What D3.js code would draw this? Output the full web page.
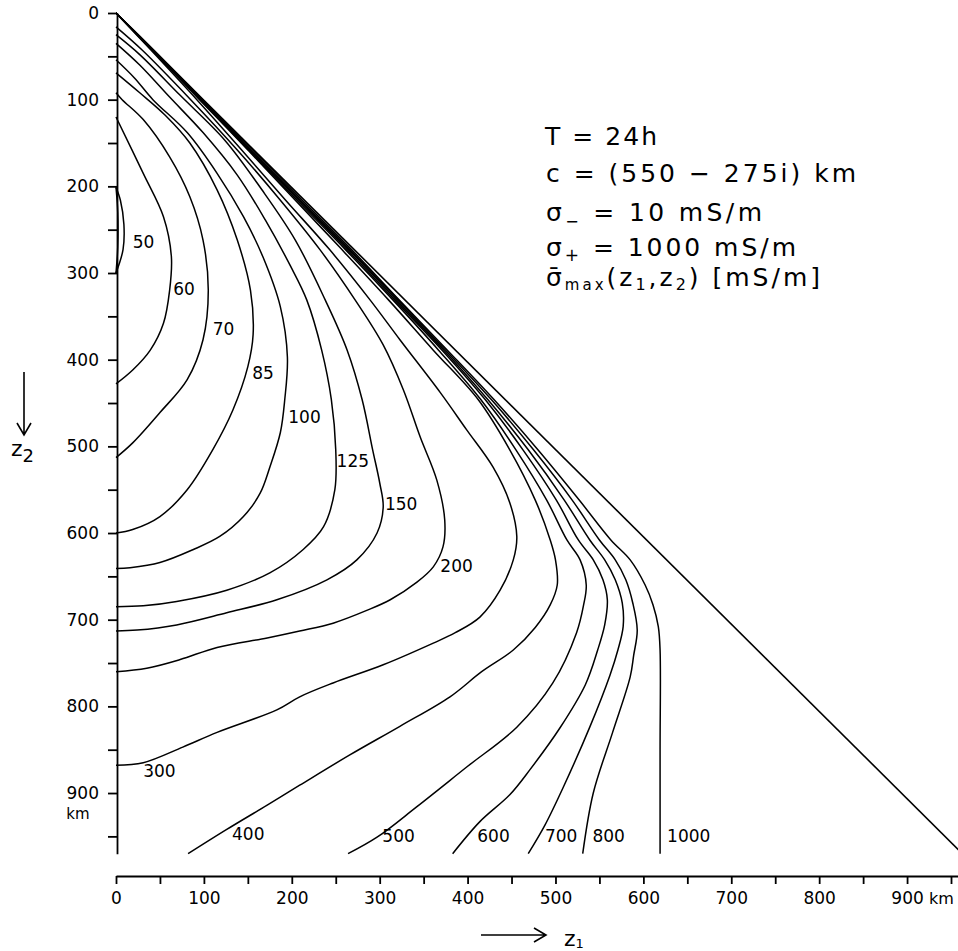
<!DOCTYPE html>
<html><head><meta charset="utf-8">
<script src="https://cdn.jsdelivr.net/npm/d3@7"></script>
<style>
body{margin:0;background:#fff}
svg{display:block;font-family:"DejaVu Sans",sans-serif}
</style>
</head><body>
<script>
// ---- data (z1, z2 in km) ----
const levels = [50,60,70,85,100,125,150,200,300,400,500,600,700,800,1000];

const c50a = [[0,201],[5,216],[9,244],[8,273],[0,300]];
const c50b = [[0,201],[2,230],[2,270],[0,300]];
const c60  = [[0,120],[31,185],[54,235],[63,281],[61,320],[54,358],[39,389],[19,412],[0,428]];
const c70  = [[0,92],[7,100],[31,123],[61,166],[84,212],[99,262],[105,320],[99,377],[81,423],[50,461],[19,496],[0,513]];
const c85  = [[0,69],[27,92],[56,118],[84,150],[115,204],[138,262],[153,320],[156,371],[150,408],[133,458],[110,504],[81,550],[50,581],[19,596],[0,600]];
const c100 = [[0,54],[21,75],[42,100],[81,138],[115,185],[145,235],[167,281],[187,339],[195,397],[192,446],[187,484],[175,524],[164,554],[145,581],[118,604],[88,619],[50,634],[16,640],[0,641]];
const c125 = [[0,35],[27,60],[61,97],[99,138],[138,187],[170,239],[198,291],[217,331],[234,389],[245,446],[250,504],[249,550],[236,593],[213,619],[175,646],[126,666],[69,679],[31,684],[0,685]];
const c150 = [[0,25],[27,48],[73,95],[124,147],[166,204],[204,262],[238,331],[263,389],[280,446],[292,504],[300,542],[304,570],[297,600],[274,631],[240,654],[183,677],[126,692],[69,706],[24,712],[0,713]];
const c200 = [[0,16],[30,43],[85,100],[138,158],[187,216],[232,273],[272,331],[304,383],[327,435],[346,489],[365,539],[374,585],[372,616],[361,639],[342,657],[312,677],[286,689],[247,704],[209,713],[172,721],[115,732],[73,746],[35,756],[0,760]];
const c300 = [[0,0],[40,43],[92,100],[143,158],[193,216],[243,273],[289,331],[323,377],[369,438],[399,481],[429,524],[448,565],[456,604],[452,631],[437,666],[414,697],[386,715],[361,727],[304,752],[247,773],[209,789],[183,804],[115,830],[76,847],[31,865],[0,868]];
const c400 = [[0,0],[41,43],[95,100],[150,158],[204,216],[257,273],[310,331],[361,389],[412,446],[448,504],[477,562],[494,608],[500,631],[502,660],[494,683],[477,709],[452,735],[416,760],[380,789],[323,823],[266,856],[209,891],[172,914],[126,942],[82,970]];
const c500 = [[0,0],[42,43],[96,100],[151,158],[206,216],[261,273],[315,331],[367,389],[415,446],[455,504],[490,562],[513,608],[528,631],[535,660],[532,683],[524,715],[497,773],[456,824],[399,870],[342,916],[297,951],[264,970]];
const c600 = [[0,0],[42,43],[97,100],[152,158],[208,216],[263,273],[317,331],[371,389],[420,446],[463,504],[501,562],[526,608],[543,631],[554,654],[559,677],[556,706],[548,735],[534,775],[505,825],[471,873],[448,902],[414,933],[383,970]];
const c700 = [[0,0],[42,43],[98,100],[153,158],[209,216],[265,273],[319,331],[373,389],[423,446],[469,504],[510,562],[539,608],[556,631],[568,654],[576,681],[577,708],[571,735],[562,764],[539,824],[509,893],[488,937],[469,970]];
const c800 = [[0,0],[43,43],[98,100],[154,158],[210,216],[266,273],[321,331],[375,389],[427,446],[475,504],[519,562],[550,608],[568,631],[580,654],[588,681],[593,712],[589,741],[585,766],[565,830],[543,900],[531,970]];
const c1000= [[0,0],[43,43],[99,100],[156,158],[212,216],[268,273],[322,331],[377,389],[430,446],[480,504],[527,562],[563,608],[585,631],[602,660],[611,683],[617,708],[619,735],[619,850],[619,970]];
const boundary = [[0,0],[968,975]];

// label anchor points (km), one per level
const labelPos = [[19,271],[65,325],[110,372],[155,422],[196,473],[251,524],[306,574],[369,645],[31,882],[132,954],[303,956],[411,956],[488,957],[542,957],[627,957]];

const yTicks = [0,50,100,150,200,250,300,350,400,450,500,550,600,650,700,750,800,850,900,950];
const yTickLabels = [0,100,200,300,400,500,600,700,800,900];
const xTicks = [0,50,100,150,200,250,300,350,400,450,500,550,600,650,700,750,800,850,900,950];
const xTickLabels = [0,100,200,300,400,500,600,700,800,900];

const curves = [c50a,c50b,c60,c70,c85,c100,c125,c150,c200,c300,c400,c500,c600,c700,c800,c1000];

// ---- drawing ----
const W = 958, H = 951;
const x = d3.scaleLinear().domain([0,960]).range([116,959.8]);
const y = d3.scaleLinear().domain([0,970]).range([13,853.7]);

const svg = d3.select("body").append("svg").attr("width",W).attr("height",H);

const line = d3.line().x(d=>x(d[0])).y(d=>y(d[1])).curve(d3.curveCatmullRom.alpha(0.5));

svg.append("g").selectAll("path").data(curves).join("path")
  .attr("d", line).attr("fill","none").attr("stroke","#000")
  .attr("stroke-width",1.5).attr("stroke-linejoin","round");

svg.append("path").attr("d", d3.line().x(d=>x(d[0])).y(d=>y(d[1]))(boundary))
  .attr("fill","none").attr("stroke","#000").attr("stroke-width",1.6);

// contour labels
svg.append("g").selectAll("text").data(levels).join("text")
  .attr("x",(d,i)=>x(labelPos[i][0])).attr("y",(d,i)=>y(labelPos[i][1]))
  .attr("font-size",17).text(d=>d);

// y axis
const yAxis = d3.axisLeft(y).tickValues(yTicks).tickSize(9).tickSizeOuter(0).tickPadding(9)
  .tickFormat(d => yTickLabels.includes(d) ? d : "");
const gy = svg.append("g").attr("transform",`translate(${x(0)+1},0)`).call(yAxis);
gy.selectAll("text").attr("font-size",17).attr("font-family","DejaVu Sans");
gy.selectAll("path,line").attr("stroke","#000").attr("stroke-width",1.8);
svg.append("text").attr("x",78).attr("y",819).attr("text-anchor","middle").attr("font-size",15).text("km");

// x axis
const xAxis = d3.axisBottom(x).tickValues(xTicks).tickSize(8).tickSizeOuter(0).tickPadding(8)
  .tickFormat(d => xTickLabels.includes(d) ? d : "");
const gx = svg.append("g").attr("transform","translate(0,876)").call(xAxis);
gx.selectAll("text").attr("font-size",17).attr("font-family","DejaVu Sans");
gx.selectAll("path,line").attr("stroke","#000").attr("stroke-width",1.8);
svg.append("text").attr("x",929).attr("y",904).attr("font-size",16).text("km");

// axis arrows and titles
svg.append("path").attr("d","M24,372 L24,434 M17,423 L24,435 L31,423")
  .attr("fill","none").attr("stroke","#000").attr("stroke-width",1.6);
const tz2 = svg.append("text").attr("x",11).attr("y",456).attr("font-size",22);
tz2.append("tspan").text("z");
tz2.append("tspan").attr("dy",6).attr("font-size",18).text("2");

svg.append("path").attr("d","M481,935 L545,935 M534,928 L546,935 L534,942")
  .attr("fill","none").attr("stroke","#000").attr("stroke-width",1.6);
const tz1 = svg.append("text").attr("x",564).attr("y",946).attr("font-size",22);
tz1.append("tspan").text("z");
tz1.append("tspan").attr("dy",2).attr("font-size",13).text("1");

// annotation block
const ann = svg.append("g").attr("font-size",25);
ann.append("text").attr("x",545).attr("y",145).attr("textLength",112).attr("lengthAdjust","spacing").text("T = 24h");
ann.append("text").attr("x",546).attr("y",182).attr("textLength",310).attr("lengthAdjust","spacing").text("c = (550 \u2212 275i) km");
const l3 = ann.append("text").attr("x",546).attr("y",221).attr("textLength",216).attr("lengthAdjust","spacing");
l3.append("tspan").text("\u03C3");
l3.append("tspan").attr("dy",6).attr("font-size",16).text("\u2212");
l3.append("tspan").attr("dy",-6).text(" = 10 mS/m");
const l4 = ann.append("text").attr("x",546).attr("y",256).attr("textLength",250).attr("lengthAdjust","spacing");
l4.append("tspan").text("\u03C3");
l4.append("tspan").attr("dy",5).attr("font-size",17).text("+");
l4.append("tspan").attr("dy",-5).text(" = 1000 mS/m");
const l5 = ann.append("text").attr("x",546).attr("y",286).attr("textLength",274).attr("lengthAdjust","spacing");
l5.append("tspan").text("\u03C3\u0304");
l5.append("tspan").attr("dy",4).attr("font-size",15).text("max");
l5.append("tspan").attr("dy",-4).text("(z");
l5.append("tspan").attr("dy",4).attr("font-size",16).text("1");
l5.append("tspan").attr("dy",-4).text(",z");
l5.append("tspan").attr("dy",4).attr("font-size",16).text("2");
l5.append("tspan").attr("dy",-4).text(") [mS/m]");
</script>
</body></html>
